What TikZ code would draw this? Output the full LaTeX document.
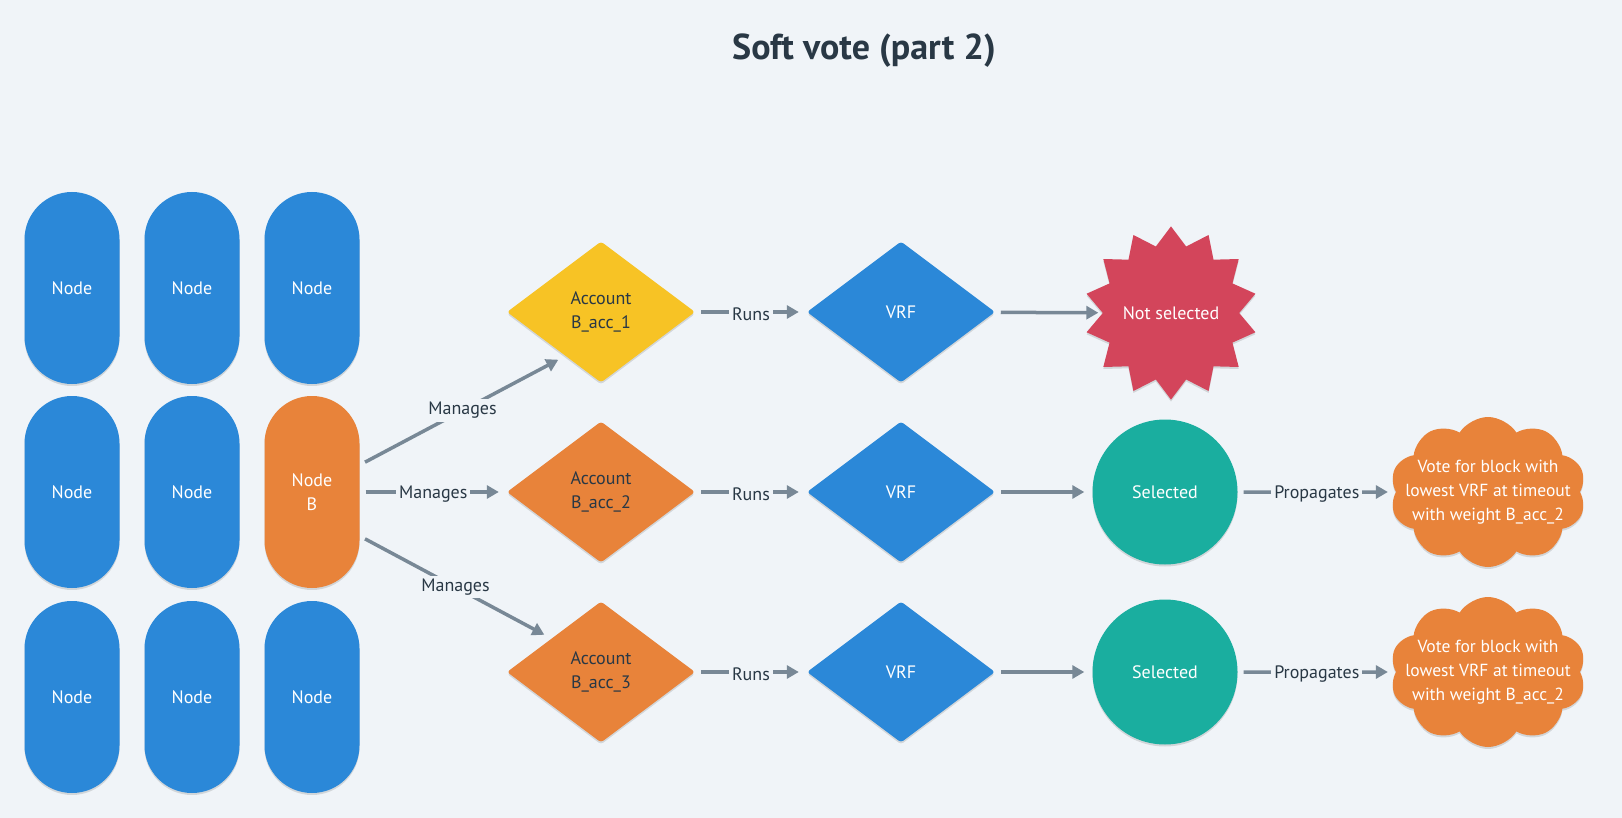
\documentclass[tikz,border=0pt]{standalone}
\usepackage{fontspec}
\setmainfont{PT Sans}
\usepackage{xcolor}
\usepackage{tikz}
\usetikzlibrary{shapes.geometric,shapes.symbols,arrows.meta,shadows}
\definecolor{votebg}{RGB}{240,244,248}
\definecolor{votetext}{RGB}{41,56,69}
\definecolor{voteblue}{RGB}{43,136,216}
\definecolor{voteorange}{RGB}{232,131,58}
\definecolor{voteyellow}{RGB}{247,195,37}
\definecolor{votered}{RGB}{211,69,91}
\definecolor{voteteal}{RGB}{26,174,159}
\definecolor{votegray}{RGB}{120,136,150}

\begin{document}
\begin{tikzpicture}[x=1pt,y=-1pt,
  every node/.style={font=\fontsize{18}{24.5}\selectfont},
  soft/.style={drop shadow={shadow xshift=0pt,shadow yshift=-2pt,opacity=0.12,fill=black}},
  pill/.style={rectangle, rounded corners=47.5pt, minimum width=95pt, minimum height=192pt,
    inner sep=0pt, fill=voteblue, text=white, align=center, soft},
  account/.style={diamond, shape aspect=1.333, minimum width=188pt, minimum height=141pt,
    inner sep=0pt, rounded corners=3pt, text=votetext, align=center, soft},
  conn/.style={line width=3.5pt, votegray, -{Triangle[length=12pt,width=13pt]},
    shorten <=6pt, shorten >=8pt},
  arrowlabel/.style={fill=votebg, inner sep=3pt, text=votetext, yshift=-2pt}]
  \fill[votebg] (0,0) rectangle (1622,818);
  \node[text=votetext, font=\fontsize{36}{42}\selectfont\bfseries] (title) at (864,51) {Soft vote (part 2)};
  % nodes of the network
  \foreach \x/\y [count=\i] in {72/288,192/288,312/288,72/492,192/492,72/697,192/697,312/697} {
    \node[pill] (pill\i) at (\x,\y) {Node};
  }
  \node[pill, fill=voteorange] (nodeB) at (312,492) {Node\\B};
  % accounts and their VRF
  \foreach \i/\y/\col in {1/312/voteyellow,2/492/voteorange,3/672/voteorange} {
    \node[account, fill=\col] (acc\i) at (601,\y) {Account\\B\_acc\_\i};
    \node[account, fill=voteblue, text=white] (vrf\i) at (901,\y) {VRF};
    \draw[conn] (acc\i) -- node[arrowlabel] {Runs} (vrf\i);
  }
  % outcomes
  \node[star, star points=14, star point ratio=1.27, minimum size=148pt, inner sep=0pt,
    fill=votered, text=white, soft] (notsel) at (1171,313) {Not selected};
  \foreach \i/\y in {2/492,3/672} {
    \node[circle, minimum size=145pt, inner sep=0pt, fill=voteteal, text=white, soft] (sel\i) at (1165,\y) {Selected};
    \node[cloud, cloud puffs=10, cloud puff arc=115, cloud ignores aspect, minimum width=196pt, minimum height=150pt,
      inner sep=0pt, fill=voteorange, soft,
      label={[text=white, align=center, font=\fontsize{17.5}{24}\selectfont]center:Vote for block with\\lowest VRF at timeout\\with weight B\_acc\_2}] (vote\i) at (1488,\y) {};
    \draw[conn] (vrf\i) -- (sel\i);
    \draw[conn] (sel\i) -- node[arrowlabel] {Propagates} (vote\i);
  }
  \draw[conn, shorten >=4pt] (vrf1) -- (notsel);
  % node B manages the accounts
  \draw[conn] ([yshift=27pt]nodeB.east) -- node[arrowlabel, yshift=2pt] {Manages} (acc1.-129);
  \draw[conn] (nodeB.east) -- node[arrowlabel] {Manages} (acc2.west);
  \draw[conn] ([yshift=-44pt]nodeB.east) -- node[arrowlabel, yshift=2pt] {Manages} (acc3.146);
\end{tikzpicture}
\end{document}
